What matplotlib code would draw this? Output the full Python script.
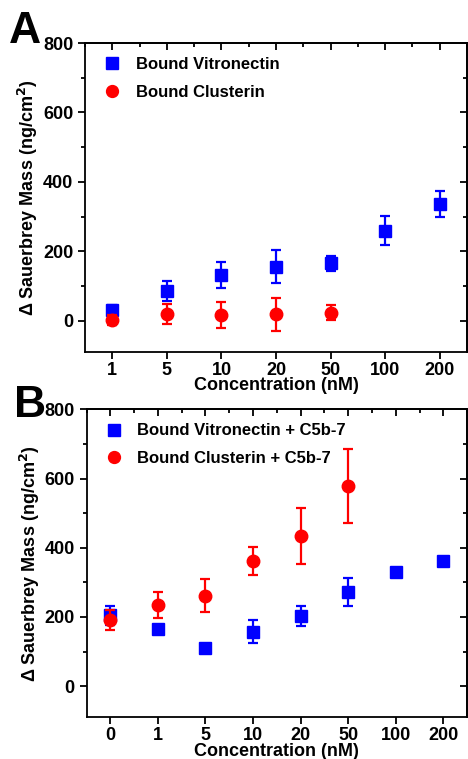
import numpy as np
import matplotlib
matplotlib.use("Agg")
import matplotlib.pyplot as plt
from matplotlib.ticker import MultipleLocator, FixedLocator

plt.rcParams['font.family'] = ['Liberation Sans', 'DejaVu Sans']
plt.rcParams['font.weight'] = 'bold'

# panel A
conc_a = ["1", "5", "10", "20", "50", "100", "200"]
vit_a = [31, 86, 132, 156, 165, 259, 337]
vit_a_err = [14, 30, 38, 48, 23, 42, 37]
clu_a = [2, 19, 17, 19, 23]
clu_a_err = [14, 29, 38, 48, 22]

# panel B
conc_b = ["0", "1", "5", "10", "20", "50", "100", "200"]
vit_b = [205, 164, 109, 157, 203, 273, 331, 363]
vit_b_err = [27, 9, 8, 33, 28, 40, 10, 10]
clu_b = [191, 234, 262, 361, 433, 579]
clu_b_err = [28, 37, 48, 40, 81, 107]

blue = "#0000ff"
red = "#ff0000"

fig = plt.figure(figsize=(4.68, 7.59), dpi=100)
axA = fig.add_axes([0.1816, 0.5362, 0.8164, 0.4071])
axB = fig.add_axes([0.185, 0.0549, 0.813, 0.4058])


def style(ax, cats):
    n = len(cats)
    ax.set_xlim(-0.5, n - 0.5)
    ax.set_ylim(-90, 800)
    ax.xaxis.set_major_locator(FixedLocator(range(n)))
    ax.set_xticklabels(cats)
    ax.xaxis.set_minor_locator(FixedLocator(np.arange(-0.5, n, 0.5)))
    ax.yaxis.set_major_locator(MultipleLocator(200))
    ax.yaxis.set_minor_locator(MultipleLocator(100))
    ax.tick_params(axis='both', which='both', direction='out', top=False, right=False,
                   labelsize=13, width=1.3)
    ax.tick_params(which='major', length=5)
    ax.tick_params(which='minor', length=3)
    ax.tick_params(axis='x', which='minor', bottom=False)
    ax.tick_params(axis='x', which='major', pad=2)
    for lab in ax.get_xticklabels() + ax.get_yticklabels():
        lab.set_fontweight('bold')
    sec = ax.secondary_xaxis('top')
    sec.xaxis.set_major_locator(FixedLocator(range(n)))
    sec.xaxis.set_minor_locator(FixedLocator(np.arange(-0.5, n, 0.5)))
    sec.tick_params(which='both', direction='in', labeltop=False, width=1.3)
    sec.tick_params(which='major', length=5)
    sec.tick_params(which='minor', length=3)
    sec.set_xticklabels([])
    secy = ax.secondary_yaxis('right')
    secy.yaxis.set_major_locator(MultipleLocator(200))
    secy.yaxis.set_minor_locator(MultipleLocator(100))
    secy.tick_params(which='both', direction='in', labelright=False, width=1.3)
    secy.tick_params(which='major', length=5)
    secy.tick_params(which='minor', length=3)
    for s in ax.spines.values():
        s.set_linewidth(1.3)
    sec.spines['top'].set_linewidth(1.3)
    secy.spines['right'].set_linewidth(1.3)
    ax.set_xlabel("Concentration (nM)", fontsize=13, fontweight='bold', labelpad=-1)
    ax.set_ylabel("\u0394 Sauerbrey Mass (ng/cm$^\\mathbf{2}$)", fontsize=13,
                  fontweight='bold', labelpad=2)


def draw(ax, cats, vit, vit_err, clu, clu_err, labels):
    x_v = np.arange(len(vit))
    x_c = np.arange(len(clu))
    ax.errorbar(x_v, vit, yerr=vit_err, fmt='s', color=blue, ms=8.5,
                elinewidth=1.6, capsize=3.5, capthick=1.6, label=labels[0], zorder=3)
    ax.errorbar(x_c, clu, yerr=clu_err, fmt='o', color=red, ms=9,
                elinewidth=1.6, capsize=3.5, capthick=1.6, label=labels[1], zorder=4)
    handles, labs = ax.get_legend_handles_labels()
    handles = [h[0] for h in handles]
    ax.legend(handles, labs, loc='upper left', frameon=False,
              prop={'weight': 'bold', 'size': 12}, handletextpad=0.6,
              handlelength=1.6, labelspacing=0.75, borderaxespad=0.55,
              borderpad=0.3, markerscale=0.95)
    style(ax, cats)


draw(axA, conc_a, vit_a, vit_a_err, clu_a, clu_a_err,
     ["Bound Vitronectin", "Bound Clusterin"])
draw(axB, conc_b, vit_b, vit_b_err, clu_b, clu_b_err,
     ["Bound Vitronectin + C5b-7", "Bound Clusterin + C5b-7"])

fig.text(0.02, 0.985, "A", fontsize=32, fontweight='bold', va='top', ha='left')
fig.text(0.03, 0.493, "B", fontsize=32, fontweight='bold', va='top', ha='left')

fig.savefig("out.png", dpi=100)
